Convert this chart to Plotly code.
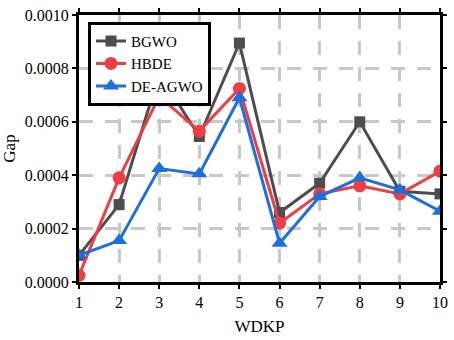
import plotly.graph_objects as go

x = [1, 2, 3, 4, 5, 6, 7, 8, 9, 10]
bgwo = [0.00010, 0.00029, 0.00078, 0.000545, 0.000895, 0.00026, 0.00037, 0.00060, 0.00034, 0.00033]
hbde = [0.000025, 0.00039, 0.000695, 0.000565, 0.000725, 0.00022, 0.00033, 0.00036, 0.00033, 0.000415]
deagwo = [0.00010, 0.000155, 0.000425, 0.000405, 0.00069, 0.000145, 0.00032, 0.00039, 0.000345, 0.000265]

series = [
    ("BGWO", bgwo, "#4d4d4d", "square", 11),
    ("HBDE", hbde, "#ef3e42", "circle", 13),
    ("DE-AGWO", deagwo, "#1c6fdc", "triangle-up", 14),
]

fig = go.Figure()
for name, vals, col, sym, sz in series:
    fig.add_trace(go.Scatter(x=x, y=vals, name=name, mode="lines+markers",
                             line=dict(color=col, width=3),
                             marker=dict(symbol=sym, size=sz, color=col)))

serif = "Times New Roman, Liberation Serif, serif"
font = dict(family=serif, size=16, color="black")
fig.update_layout(
    width=454, height=340,
    margin=dict(l=78, r=7, t=14, b=48),
    paper_bgcolor="white", plot_bgcolor="white",
    font=font,
    showlegend=True,
    legend=dict(x=0.025, y=0.975, xanchor="left", yanchor="top",
                bordercolor="black", borderwidth=3, bgcolor="white",
                font=dict(family=serif, size=15, color="black"),
                tracegroupgap=0, itemwidth=30),
)
grid = dict(showgrid=True, gridcolor="#c8c8c8", gridwidth=3, griddash="14px,12px")
fig.update_xaxes(range=[1, 10], tickvals=x, ticktext=[str(v) for v in x],
                 showline=True, linecolor="black", linewidth=3, mirror="ticks",
                 ticks="outside", ticklen=4, tickwidth=2, tickcolor="black",
                 tickfont=dict(family=serif, size=16, color="black"),
                 zeroline=False, title=dict(text="WDKP", standoff=10,
                                            font=dict(family=serif, size=17)), **grid)
fig.update_yaxes(range=[0, 0.001], tickvals=[0, 0.0002, 0.0004, 0.0006, 0.0008, 0.001],
                 ticktext=["0.0000", "0.0002", "0.0004", "0.0006", "0.0008", "0.0010"],
                 showline=True, linecolor="black", linewidth=3, mirror="ticks",
                 ticks="outside", ticklen=4, tickwidth=2, tickcolor="black",
                 tickfont=dict(family=serif, size=16, color="black"),
                 zeroline=False, title=dict(text="Gap", standoff=6,
                                            font=dict(family=serif, size=17)), **grid)
fig.write_html("out.html")
